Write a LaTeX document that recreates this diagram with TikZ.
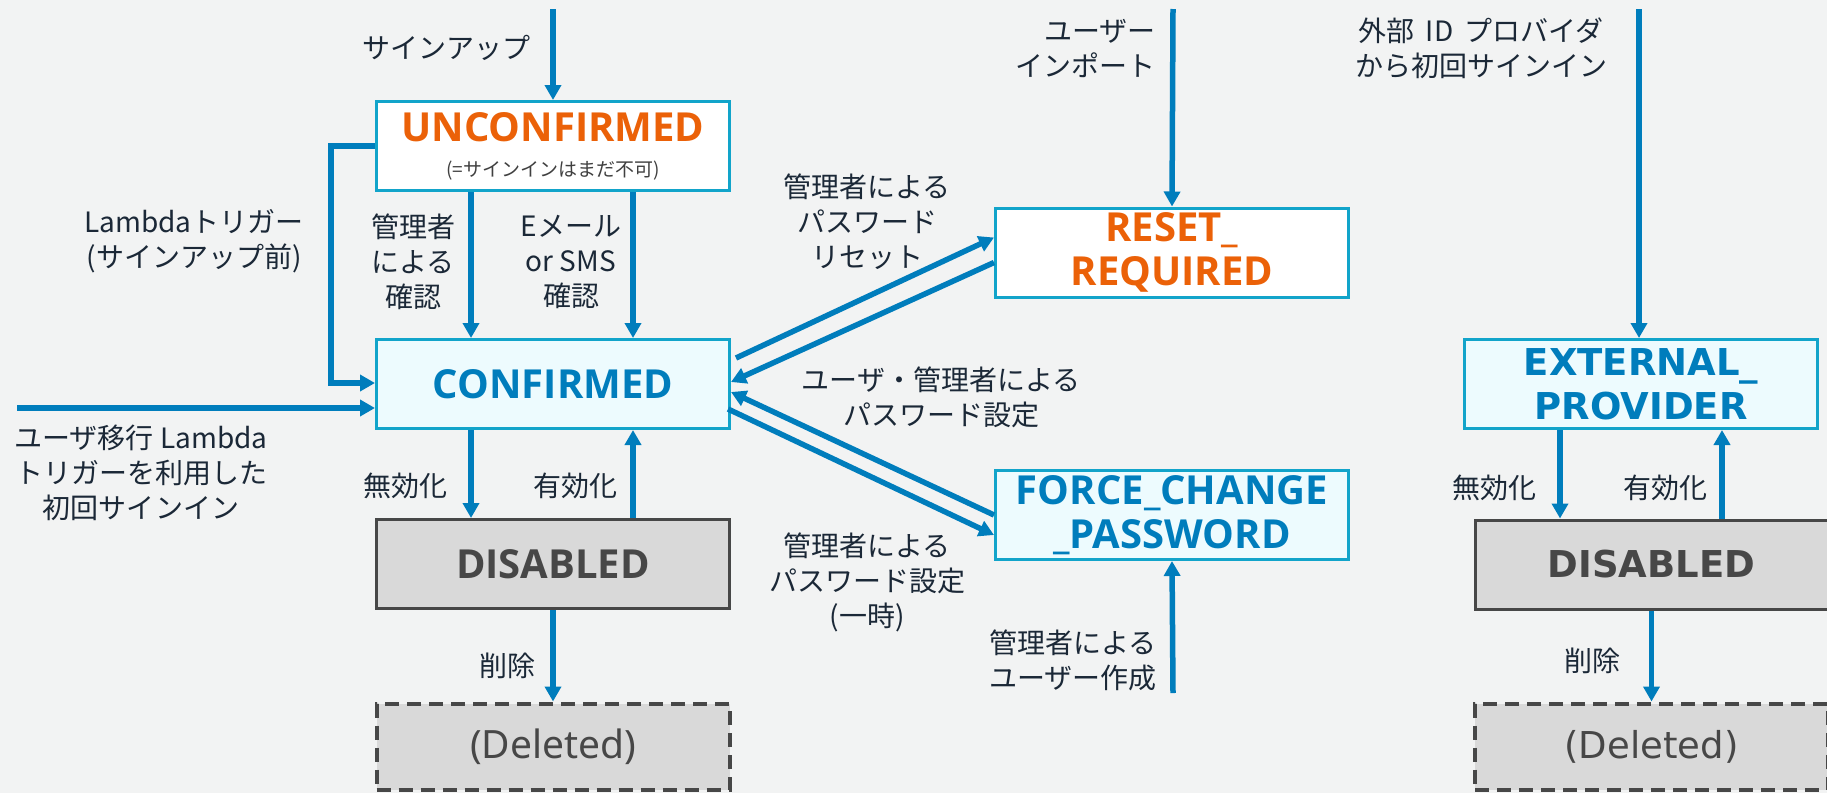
\documentclass[tikz,border=0pt]{standalone}
\usepackage{fontspec}
\setmainfont{Noto Sans CJK JP}
\newfontfamily\jpfont{Noto Sans CJK JP}
\newfontfamily\notosans{Noto Sans}
\newfontfamily\opensans{Open Sans}
\newfontfamily\dvsans{DejaVu Sans}
\usetikzlibrary{arrows.meta}
\definecolor{bgc}{HTML}{F2F3F3}
\definecolor{cyanb}{HTML}{12A4CA}
\definecolor{arrowb}{HTML}{007DBC}
\definecolor{orng}{HTML}{EB6108}
\definecolor{lightc}{HTML}{EDFBFE}
\definecolor{bluet}{HTML}{007DBC}
\definecolor{gfill}{HTML}{D9D9D9}
\definecolor{gline}{HTML}{474747}
\definecolor{lblc}{HTML}{1B2837}
\definecolor{subg}{HTML}{404040}
\begin{document}
\begin{tikzpicture}[x=1pt,y=-1pt,
  box/.style={draw, line width=3pt, minimum width=353pt, minimum height=89pt, inner sep=0pt, align=center},
  cbox/.style={box, draw=cyanb},
  gbox/.style={box, draw=gline, fill=gfill},
  ttlL/.style={font=\opensans\bfseries\fontsize{40}{44}\selectfont},
  ttlR/.style={font=\dvsans\bfseries\fontsize{37}{44}\selectfont},
  arr/.style={draw=arrowb, line width=5.5pt, -{Triangle[width=16pt,length=15pt]}},
  lbl/.style={text=lblc, font=\jpfont\fontsize{28}{35}\selectfont, align=center, inner sep=0pt},
  dsh/.style={draw=gline, line width=4pt, dash pattern=on 14pt off 8pt}
]
\fill[bgc] (0,0) rectangle (1827,793);
\useasboundingbox (0,0) rectangle (1827,793);

% ---- left column boxes
\node[cbox, fill=white, ttlL] (U) at (553,146) {\textcolor{orng}{UNCONFIRMED}\\[-9pt]{\jpfont\mdseries\fontsize{19}{22}\selectfont\textcolor{subg}{(=サインインはまだ不可)}}};
\node[cbox, fill=lightc, ttlL, text=bluet] (C) at (553,384) {CONFIRMED};
\node[gbox, ttlL, text=gline] (D) at (553,564) {DISABLED};
\node[box, dsh, fill=gfill, text=gline, font=\notosans\fontsize{39}{44}\selectfont, minimum height=86pt] (X) at (553,746.5) {(Deleted)};

% ---- middle boxes
\node[cbox, fill=white, ttlL, text=orng] (R) at (1172,252.5) {RESET\_\\REQUIRED};
\node[cbox, fill=lightc, ttlL, text=bluet] (F) at (1172,515) {FORCE\_CHANGE\\\_PASSWORD};

% ---- right column boxes
\node[cbox, fill=lightc, ttlR, text=bluet] (E) at (1641,384) {EXTERNAL\_\\PROVIDER};
\node[gbox, ttlR, text=gline] (D2) at (1651.5,564.5) {DISABLED};
\node[box, dsh, fill=gfill, text=gline, font=\dvsans\fontsize{37}{44}\selectfont, minimum height=86pt] (X2) at (1651.5,746.5) {(Deleted)};

% ---- free ends
\coordinate (sSignup) at (553,9);
\coordinate (sImport) at (1173,9);
\coordinate (sExt) at (1639,9);
\coordinate (sMig) at (17,408);
\coordinate (sCreate) at (1173,693);
\coordinate (bend) at (331,146);

% ---- connectors left
\draw[arr] (sSignup) -- (U.north);
\draw[arr] (U.west) -- (bend) |- ([yshift=1pt]C.west);
\draw[arr] (sMig) -- (sMig -| C.west);
\draw[arr] ([xshift=-82pt]U.south) -- ([xshift=-82pt]C.north);
\draw[arr] ([xshift=80pt]U.south) -- ([xshift=80pt]C.north);
\draw[arr] ([xshift=-82pt]C.south) -- ([xshift=-82pt]D.north);
\draw[arr] ([xshift=80pt]D.north) -- ([xshift=80pt]C.south);
\draw[arr] (D.south) -- (X.north);

% ---- connectors middle
\draw[arr] (sImport) -- (R.north);
\draw[arr] ([shift={(5pt,26pt)}]C.east) -- ([yshift=15pt]R.west);
\draw[arr] ([yshift=-10pt]R.west) -- ([yshift=2pt]C.east);
\draw[arr] (F.west) -- ([yshift=-8pt]C.east);
\draw[arr] ([shift={(-3pt,-25pt)}]C.east) -- ([yshift=-20pt]F.west);
\draw[arr] (sCreate) -- (F.south);

% ---- connectors right
\draw[arr] (sExt) -- (sExt |- E.north);
\draw[arr] ([xshift=-81pt]E.south) -- ([xshift=-81pt]E.south |- D2.north);
\draw[arr] ([xshift=81pt]E.south |- D2.north) -- ([xshift=81pt]E.south);
\draw[arr] (D2.south) -- (X2.north);

% ---- labels
\node[lbl] (lSignup) at (446,48) {サインアップ};
\node[lbl] (lLambda) at (194,241) {Lambdaトリガー\\(サインアップ前)};
\node[lbl] (lAdmConf) at (413,262) {管理者\\による\\確認};
\node[lbl] (lMail) at (571,262) {Eメール\\or SMS\\確認};
\node[lbl] (lMig) at (141,473) {ユーザ移行 Lambda\\トリガーを利用した\\初回サインイン};
\node[lbl] (lDis) at (405,486) {無効化};
\node[lbl] (lEn) at (575,486) {有効化};
\node[lbl] (lDel) at (507,666) {削除};
\node[lbl, anchor=east, align=right] (lImport) at (1156,48) {ユーザー\\インポート};
\node[lbl] (lReset) at (867,222) {管理者による\\パスワード\\リセット};
\node[lbl] (lSet) at (941,397) {ユーザ・管理者による\\パスワード設定};
\node[lbl] (lTemp) at (867,582) {管理者による\\パスワード設定\\(一時)};
\node[lbl, anchor=east, align=right] (lCreate) at (1157,660) {管理者による\\ユーザー作成};
\node[lbl] (lExt) at (1481,48) {外部\hspace{0.4em}ID\hspace{0.4em}プロバイダ\\から初回サインイン};
\node[lbl] (lDis2) at (1494,488) {無効化};
\node[lbl] (lEn2) at (1665,488) {有効化};
\node[lbl] (lDel2) at (1592,661) {削除};
\end{tikzpicture}
\end{document}
